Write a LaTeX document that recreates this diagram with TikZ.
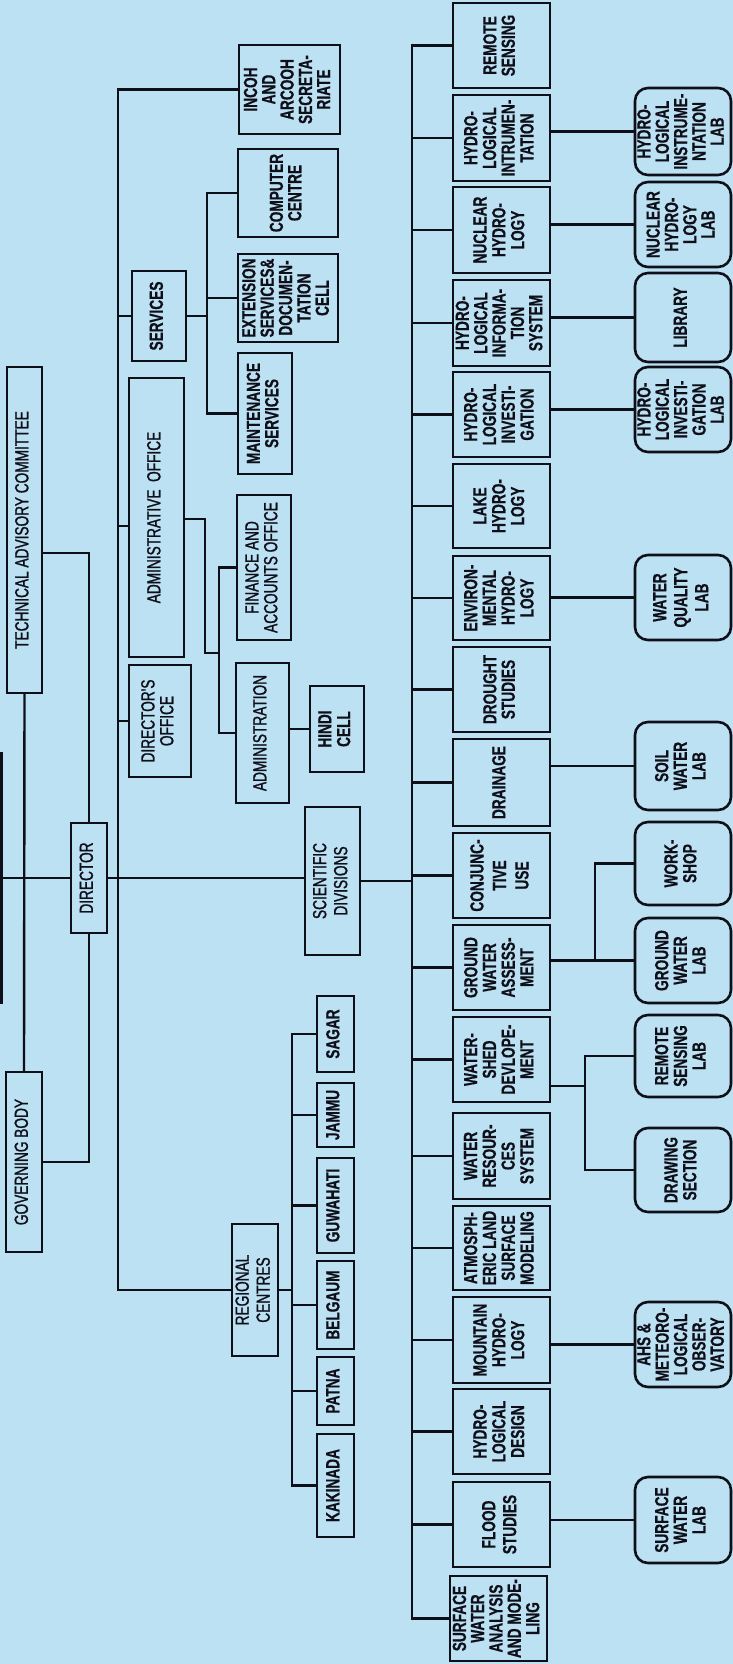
\documentclass[tikz,border=0pt]{standalone}
\usepackage{fontspec}
\usepackage{graphicx}
\newfontfamily\orgreg[FakeStretch=0.72,FakeBold=1.2]{Liberation Sans}
\newfontfamily\orgbold[FakeStretch=0.72,FakeBold=0.5,UprightFont={* Bold}]{Liberation Sans}
\definecolor{bgblue}{RGB}{188,225,243}
\definecolor{ink}{RGB}{15,15,25}
\newcommand\rt[1]{\rotatebox{90}{\begin{tabular}{@{}c@{}}#1\end{tabular}}}
\newcommand\bx[7]{\node[#2, minimum width={(#5)-(#3)}, minimum height={(#6)-(#4)}] (#1) at ({((#3)+(#5))/2},{((#4)+(#6))/2}) {\rt{#7}};}
\begin{document}
\begin{tikzpicture}[x=1pt, y=-1pt, line width=2.4pt, draw=ink,
  box/.style={draw=ink, line width=2.6pt, inner sep=0pt, outer sep=0pt, text=ink,
    font=\orgbold\fontsize{19}{18.5}\selectfont},
  reg/.style={box, font=\orgreg\fontsize{19}{18.5}\selectfont},
  lab/.style={box, rounded corners=13pt},
  tight/.style={execute at begin node=\fontsize{19}{17}\selectfont},
  loose/.style={execute at begin node=\fontsize{19}{21}\selectfont},
  wide/.style={execute at begin node=\fontsize{19}{22.5}\selectfont}]
\fill[bgblue] (0,0) rectangle (733,1664);
\useasboundingbox (0,0) rectangle (733,1664);

% ---- top level
\node[box, minimum width=60, minimum height=250] (lbar) at (-28.5,878) {};
\bx{tac}{reg}{7}{367}{42}{693}{TECHNICAL ADVISORY COMMITTEE}
\bx{gb}{reg}{6}{1072}{42}{1252}{GOVERNING BODY}
\bx{dir}{reg}{71}{823}{107}{933}{DIRECTOR}

% ---- administrative side
\bx{inc}{box,tight}{239}{45}{340}{134}{INCOH\\AND\\ARCOOH\\SECRETA-\\RIATE}
\bx{srv}{box}{132}{271}{186}{361}{SERVICES}
\bx{cc}{box,tight}{238}{149}{338}{237}{COMPUTER\\CENTRE}
\bx{ext}{box,tight}{238}{254}{338}{342}{EXTENSION\\SERVICES\&\\DOCUMEN-\\TATION\\CELL}
\bx{mnt}{box,tight}{238}{353}{292}{474}{MAINTENANCE\\SERVICES}
\bx{ao}{reg}{129}{378}{184}{657}{ADMINISTRATIVE\ \ OFFICE}
\bx{fin}{reg}{237}{495}{291}{640}{FINANCE AND\\ACCOUNTS OFFICE}
\bx{adm}{reg}{236}{663}{289}{803}{ADMINISTRATION}
\bx{hindi}{box}{310}{686}{364}{772}{HINDI\\CELL}
\bx{dof}{reg}{129}{665}{191}{777}{DIRECTOR'S\\OFFICE}
\bx{sci}{reg,loose}{305}{807}{360}{955}{SCIENTIFIC\\DIVISIONS}
\bx{rc}{reg,loose}{232}{1224}{278}{1356}{REGIONAL\\CENTRES}
\bx{sagar}{box}{317}{996}{354}{1072}{SAGAR}
\bx{jammu}{box}{317}{1083}{354}{1147}{JAMMU}
\bx{guw}{box}{317}{1158}{354}{1253}{GUWAHATI}
\bx{belg}{box}{317}{1261}{354}{1349}{BELGAUM}
\bx{patna}{box}{317}{1357}{354}{1425}{PATNA}
\bx{kak}{box}{317}{1434}{354}{1537}{KAKINADA}

% ---- scientific divisions
\bx{rs}{box,tight}{453}{3}{550}{88}{REMOTE\\SENSING}
\bx{hi}{box}{453}{95}{550}{181}{HYDRO-\\LOGICAL\\INTRUMEN-\\TATION}
\bx{nh}{box}{453}{187}{550}{273}{NUCLEAR\\HYDRO-\\LOGY}
\bx{his}{box,tight}{453}{280}{550}{366}{HYDRO-\\LOGICAL\\INFORMA-\\TION\\SYSTEM}
\bx{hinv}{box}{453}{372}{550}{457}{HYDRO-\\LOGICAL\\INVESTI-\\GATION}
\bx{lake}{box}{453}{464}{550}{548}{LAKE\\HYDRO-\\LOGY}
\bx{env}{box}{453}{556}{550}{640}{ENVIRON-\\MENTAL\\HYDRO-\\LOGY}
\bx{dro}{box,tight}{453}{647}{550}{732}{DROUGHT\\STUDIES}
\bx{drn}{box}{453}{739}{550}{826}{DRAINAGE}
\bx{conj}{box,wide}{453}{833}{550}{918}{CONJUNC-\\TIVE\\USE}
\bx{gwa}{box}{453}{925}{550}{1010}{GROUND\\WATER\\ASSESS-\\MENT}
\bx{wsd}{box}{453}{1017}{550}{1102}{WATER-\\SHED\\DEVLOPE-\\MENT}
\bx{wrs}{box}{453}{1113}{550}{1199}{WATER\\RESOUR-\\CES\\SYSTEM}
\bx{atm}{box}{453}{1206}{550}{1290}{ATMOSPH-\\ERIC LAND\\SURFACE\\MODELING}
\bx{mtn}{box}{453}{1297}{550}{1383}{MOUNTAIN\\HYDRO-\\LOGY}
\bx{hdes}{box}{453}{1389}{550}{1474}{HYDRO-\\LOGICAL\\DESIGN}
\bx{fld}{box,loose}{453}{1482}{550}{1567}{FLOOD\\STUDIES}
\bx{swam}{box,tight}{450}{1576}{547}{1661}{SURFACE\\WATER\\ANALYSIS\\AND MODE-\\LING}

% ---- labs
\bx{hil}{lab,tight}{635}{88}{731}{175}{HYDRO-\\LOGICAL\\INSTRUME-\\NTATION\\LAB}
\bx{nhl}{lab,tight}{635}{182}{731}{267}{NUCLEAR\\HYDRO-\\LOGY\\LAB}
\bx{lib}{lab}{635}{273}{731}{362}{LIBRARY}
\bx{hivl}{lab,tight}{635}{367}{731}{452}{HYDRO-\\LOGICAL\\INVESTI-\\GATION\\LAB}
\bx{wql}{lab,loose}{635}{555}{731}{640}{WATER\\QUALITY\\LAB}
\bx{swl}{lab}{635}{722}{731}{810}{SOIL\\WATER\\LAB}
\bx{wsh}{lab}{635}{822}{731}{905}{WORK-\\SHOP}
\bx{gwl}{lab}{635}{918}{731}{1003}{GROUND\\WATER\\LAB}
\bx{rsl}{lab}{635}{1015}{731}{1097}{REMOTE\\SENSING\\LAB}
\bx{drw}{lab}{635}{1128}{731}{1212}{DRAWING\\SECTION}
\bx{ahs}{lab,tight}{635}{1302}{731}{1387}{AHS \&\\METEORO-\\LOGICAL\\OBSER-\\VATORY}
\bx{swlab}{lab}{635}{1477}{731}{1563}{SURFACE\\WATER\\LAB}

% ---- junction coordinates
\coordinate (abus) at (118,0);
\coordinate (sbus) at (207,0);
\coordinate (rbus) at (292,0);
\coordinate (bus) at (412,0);
\coordinate (tj) at (92,553);
\coordinate (aoj) at (118,526);
\coordinate (aj1) at (205,519);
\coordinate (fbus) at (219,653);
\coordinate (gwj) at (595,0);
\coordinate (wsj) at (585,1086);

% ---- top-level connectors
\draw (lbar.east) -- (dir.west);
\draw (tac.south) -- (gb.north);
\draw (tac.east |- tj) -| (dir.north);
\draw (dir.south) |- (gb.east);
\draw (dir.east) -- (dir.east -| sci.west);

% ---- administrative connectors
\draw (inc.west) -- (inc.west -| abus) -- (rc.west -| abus) -- (rc.west);
\draw (srv.west -| abus) -- (srv.west);
\draw (aoj) -- (ao.west |- aoj);
\draw (dof.west -| abus) -- (dof.west);
\draw (srv.east) -- (srv.east -| sbus);
\draw (cc.west) -- (cc.west -| sbus) -- (mnt.west -| sbus) -- (mnt.west);
\draw (ext.west -| sbus) -- (ext.west);
\draw (ao.east |- aj1) -- (aj1) |- (fbus);
\draw (fin.west) -- (fin.west -| fbus) -- (adm.west -| fbus) -- (adm.west);
\draw (adm.east |- hindi.west) -- (hindi.west);
\draw (rc.east) -- (rc.east -| rbus);
\draw (sagar.west) -- (sagar.west -| rbus) -- (kak.west -| rbus) -- (kak.west);
\foreach \n in {jammu,guw,belg,patna} \draw (\n.west -| rbus) -- (\n.west);

% ---- scientific connectors
\draw (sci.east) -- (sci.east -| bus);
\draw (rs.west) -- (rs.west -| bus) -- (swam.west -| bus) -- (swam.west);
\foreach \n in {hi,nh,his,hinv,lake,env,dro,drn,conj,gwa,wsd,wrs,atm,mtn,hdes,fld}
  \draw (\n.west -| bus) -- (\n.west);

% ---- lab connectors
\draw (hil.west) -- (hil.west -| hi.east);
\draw (nhl.west) -- (nhl.west -| nh.east);
\draw (lib.west) -- (lib.west -| his.east);
\draw (hivl.west) -- (hivl.west -| hinv.east);
\draw (wql.west) -- (wql.west -| env.east);
\draw (swl.west) -- (swl.west -| drn.east);
\draw (gwl.west) -- (gwl.west -| gwa.east);
\draw (wsh.west) -- (wsh.west -| gwj) -- (gwl.west -| gwj);
\draw (wsd.east |- wsj) -- (wsj);
\draw (rsl.west) -- (rsl.west -| wsj) -- (drw.west -| wsj) -- (drw.west);
\draw (ahs.west) -- (ahs.west -| mtn.east);
\draw (swlab.west) -- (swlab.west -| fld.east);
\end{tikzpicture}
\end{document}
